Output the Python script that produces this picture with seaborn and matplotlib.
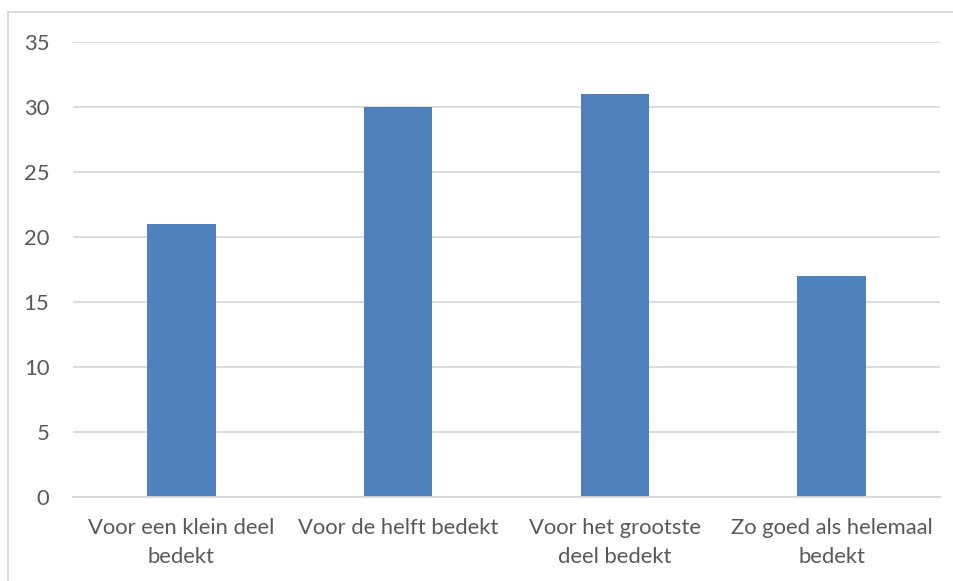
import matplotlib
matplotlib.use("Agg")
import matplotlib.pyplot as plt
import matplotlib.patches as mpatches
import seaborn as sns
import pandas as pd

categories = [
    "Voor een klein deel\nbedekt",
    "Voor de helft bedekt",
    "Voor het grootste\ndeel bedekt",
    "Zo goed als helemaal\nbedekt",
]
values = [21, 30, 31, 17]
yticks = [0, 5, 10, 15, 20, 25, 30, 35]

bar_color = "#4F81BD"
text_color = "#595959"
grid_color = "#D9D9D9"

sns.set_theme(style="white")
plt.rcParams["font.family"] = ["Lato", "DejaVu Sans"]

W, H = 954, 581
fig = plt.figure(figsize=(W / 100, H / 100), dpi=100)
ax = fig.add_axes([73 / W, 1 - 497 / H, (940 - 73) / W, (497 - 42) / H])

df = pd.DataFrame({"cat": categories, "val": values})
sns.barplot(data=df, x="cat", y="val", color=bar_color, saturation=1,
            width=0.315, ax=ax, edgecolor="none")

ax.set_ylim(0, 35)
ax.set_xlim(-0.5, len(categories) - 0.5)
ax.set_yticks(yticks)
ax.set_yticklabels([str(t) for t in yticks])
ax.set_xlabel("")
ax.set_ylabel("")
ax.yaxis.grid(True, color=grid_color, linewidth=1.3)
ax.set_axisbelow(True)
for s in ["top", "right", "left"]:
    ax.spines[s].set_visible(False)
ax.spines["bottom"].set_color(grid_color)
ax.spines["bottom"].set_linewidth(1.3)
ax.tick_params(axis="both", length=0, labelsize=15.8, colors=text_color)
ax.tick_params(axis="x", pad=15)
ax.tick_params(axis="y", pad=17)
for lbl in ax.get_xticklabels():
    lbl.set_linespacing(1.58)

# chart area frame
frame = mpatches.Rectangle((8 / W, -0.1), 1.2, 1.1 - 12 / H, transform=fig.transFigure,
                           fill=False, edgecolor=grid_color, linewidth=1.3)
fig.patches.append(frame)

fig.savefig("out.png", dpi=100, facecolor="white")
